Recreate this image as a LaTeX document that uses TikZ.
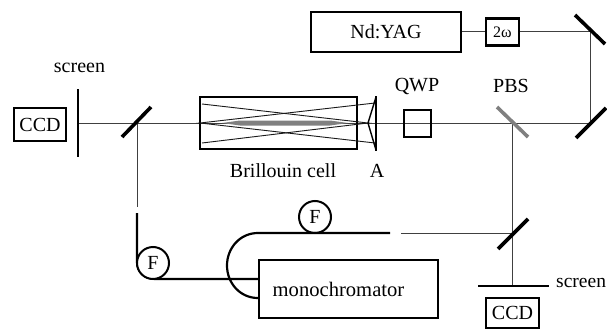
\documentclass[tikz,border=0pt]{standalone}
\usepackage{fontspec}
\setmainfont{Liberation Serif}
\usetikzlibrary{positioning, calc}

\begin{document}
\begin{tikzpicture}[
    x=1pt, y=-1pt,
    font=\fontsize{20}{22}\selectfont,
    % optical parts
    box/.style={rectangle, draw=black, line width=2.2pt, fill=white, inner sep=0pt},
    filterbox/.style={circle, draw=black, line width=2pt, fill=white, minimum size=32pt, inner sep=0pt},
    lbl/.style={inner sep=0pt},
    beam/.style={line width=1pt, black!75},
    ray/.style={line width=0.9pt, black!90},
    fibre/.style={line width=2.2pt},
    mirror/.style={line width=3.6pt},
    screenbar/.style={line width=2.8pt}
    ]

    \useasboundingbox (0,0) rectangle (607,329);

    % --- beam points ---
    \coordinate (scrleft) at (78,123);
    \coordinate (msplit) at (137,123);
    \coordinate (mtop) at (590,32);
    \coordinate (mlow) at (590,123);
    \coordinate (pbs) at (512,123);
    \coordinate (mout) at (512,233);
    \coordinate (scrright) at (512,286);
    \coordinate (cutA) at (137,207);
    \coordinate (cutB) at (401,233);
    \coordinate (fibA) at (137,213);
    \coordinate (fibB) at (390,233);
    \coordinate (lensL) at (368,123);
    \coordinate (cellL) at (200,123);

    % --- sources ---
    \node[box, minimum width=150pt, minimum height=40pt] (yag) at (386,32) {Nd:YAG};
    \node[box, minimum width=33pt, minimum height=27pt, font=\fontsize{16}{18}\selectfont] (shg) at (502.5,32) {2ω};

    % --- beams ---
    \draw[beam] (scrleft) -- (mlow) -- (mtop) -- (shg.east);
    \draw[beam] (shg.west) -- (yag.east);
    \draw[beam] (msplit) -- (cutA);
    \draw[beam] (pbs) -- (scrright);
    \draw[beam] (mout) -- (cutB);

    % --- left side ---
    \node[box, minimum width=52pt, minimum height=33pt] (ccdleft) at (40,124.5) {CCD};
    \node[lbl] (lblscrleft) at (79.5,68) {screen};
    \draw[screenbar] (78,89) -- (78,157);
    \draw[mirror] (122,137) -- (151,107);

    % --- Brillouin cell ---
    \fill[black!50] (222,123) -- (240,120.5) -- (330,120.5) -- (348,123) -- (330,125.5) -- (240,125.5) -- cycle;
    \node[box, fill=none, minimum width=157pt, minimum height=52pt] (cell) at (278.5,123) {};
    \draw[ray] (202,104) -- (lensL) -- (202,143);
    \draw[ray] (375,103) -- (cellL) -- (375,143);
    \node[lbl] (lblcell) at (283,171) {Brillouin cell};

    % --- lens A ---
    \draw[line width=2.4pt] (376,96) -- (376,151);
    \draw[line width=1.4pt] (376,97) -- (lensL) -- (376,150);
    \node[lbl] (lblA) at (377,171) {A};

    % --- QWP, PBS and mirrors ---
    \node[box, fill=none, minimum width=27pt, minimum height=27pt] (qwp) at (417.5,123.5) {};
    \node[lbl] (lblqwp) at (417,86) {QWP};
    \node[lbl] (lblpbs) at (511,86) {PBS};
    \draw[mirror, black!50] (497,107) -- (528,137);
    \draw[mirror] (575,15) -- (605,44);
    \draw[mirror] (576,138) -- (606,108);
    \draw[mirror] (498,249) -- (528,219);

    % --- monochromator and fibres ---
    \node[box, minimum width=179pt, minimum height=58pt] (mono) at (348.5,289) {};
    \node[lbl, font=\fontsize{20.6}{22}\selectfont] (lblmono) at (338.5,289) {monochromator};
    \draw[fibre] (fibA) -- (137,262) .. controls (137,272) and (145,279) .. (155,279) -- (mono.west |- 0,279);
    \draw[fibre] (mono.west |- 0,298) .. controls (240,298) and (227,283) .. (227,265.5) .. controls (227,248) and (240,233) .. (258,233) -- (fibB);
    \node[filterbox] (fleft) at (153,263) {F};
    \node[filterbox, fill=none] (ftop) at (315,217) {F};

    % --- right side ---
    \draw[screenbar] (478,286) -- (549,286);
    \node[box, minimum width=53pt, minimum height=30pt] (ccdright) at (512.5,313) {CCD};
    \node[lbl, anchor=base west, font=\fontsize{19.5}{22}\selectfont] (lblscrright) at (556,287) {screen};

\end{tikzpicture}
\end{document}
